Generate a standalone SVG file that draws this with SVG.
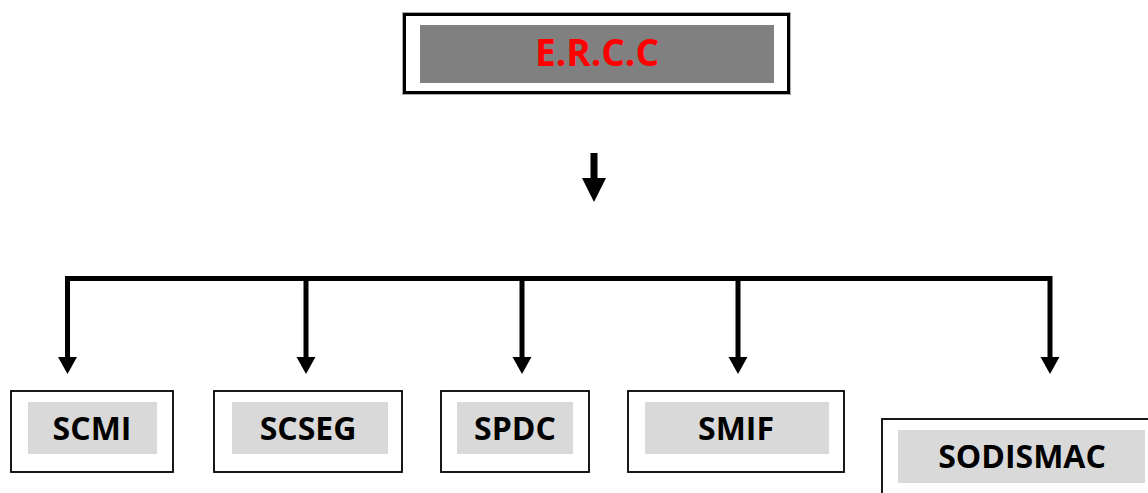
<svg xmlns="http://www.w3.org/2000/svg" width="1148" height="493" viewBox="0 0 1148 493">
<style>
.box{fill:#fff;stroke:#000;stroke-width:1.8}
.fill{fill:#d9d9d9}
.lbl{font-family:"Open Sans","Liberation Sans",sans-serif;font-weight:700;font-size:32px;fill:#000;text-anchor:middle}
.ln{stroke:#000;stroke-width:5;fill:none}
.hd{fill:#000}
</style>
<rect width="1148" height="493" fill="#fff"/>
<g id="ercc">
<rect x="402.5" y="12.5" width="388" height="82" fill="none" stroke="#aaa" stroke-width="1"/>
<rect x="404.5" y="14.5" width="384" height="78" fill="#fff" stroke="#000" stroke-width="3"/>
<rect x="420" y="25" width="354" height="58" fill="#808080"/>
<text x="597" y="66" class="lbl" style="font-size:37px;fill:#ff0000">E.R.C.C</text>
</g>
<g id="connectors">
<line x1="594" y1="153" x2="594" y2="180" stroke="#000" stroke-width="7"/>
<polygon class="hd" points="582,178 606,178 594,202"/>
<polyline class="ln" points="67.5,360 67.5,278.5 1050,278.5 1050,360"/>
<line class="ln" x1="306" y1="278.5" x2="306" y2="360"/>
<line class="ln" x1="522" y1="278.5" x2="522" y2="360"/>
<line class="ln" x1="738" y1="278.5" x2="738" y2="360"/>
<polygon class="hd" points="58,357 77,357 67.5,374"/>
<polygon class="hd" points="296.5,357 315.5,357 306,374"/>
<polygon class="hd" points="512.5,357 531.5,357 522,374"/>
<polygon class="hd" points="728.5,357 747.5,357 738,374"/>
<polygon class="hd" points="1040.5,357 1059.5,357 1050,374"/>
</g>
<g id="scmi">
<rect class="box" x="11" y="391" width="162" height="81"/>
<rect class="fill" x="28" y="402" width="129" height="52"/>
<text class="lbl" x="92" y="440">SCMI</text>
</g>
<g id="scseg">
<rect class="box" x="214" y="391" width="188" height="81"/>
<rect class="fill" x="232" y="402" width="156" height="52"/>
<text class="lbl" x="308" y="440">SCSEG</text>
</g>
<g id="spdc">
<rect class="box" x="441" y="391" width="148" height="81"/>
<rect class="fill" x="457" y="402" width="116" height="52"/>
<text class="lbl" x="515" y="440">SPDC</text>
</g>
<g id="smif">
<rect class="box" x="628" y="391" width="216" height="81"/>
<rect class="fill" x="645" y="402" width="184" height="52"/>
<text class="lbl" x="736" y="440">SMIF</text>
</g>
<g id="sodismac">
<rect class="box" x="882" y="419" width="290" height="90"/>
<rect class="fill" x="898" y="430" width="247" height="53"/>
<text class="lbl" x="1022" y="468">SODISMAC</text>
</g>
</svg>
